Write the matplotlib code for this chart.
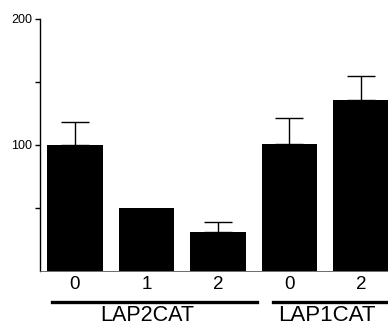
import numpy as np
import matplotlib
matplotlib.use('Agg')
import matplotlib.pyplot as plt
from matplotlib.transforms import blended_transform_factory

plt.rcParams['font.family'] = ['Liberation Sans', 'DejaVu Sans']

# bar values (percent activity)
labels = ['0', '1', '2', '0', '2']
values = [100, 50, 31, 101, 136]
err_up = [18, 0, 8, 20, 19]
groups = ['LAP2CAT', 'LAP1CAT']

fig = plt.figure(figsize=(3.88, 3.26), dpi=100)
ax = fig.add_axes([0.103, 0.169, 0.897, 0.773])

x = np.arange(len(values))
ax.bar(x, values, width=0.78, color='black', zorder=2)
errs = np.array([np.zeros(len(err_up)), err_up])
mask = np.array(err_up) > 0
ax.errorbar(x[mask], np.array(values)[mask], yerr=errs[:, mask], fmt='none',
            ecolor='black', elinewidth=1, capsize=10, capthick=1, zorder=1)

ax.set_xlim(-0.49, 4.38)
ax.set_ylim(0, 200)
ax.set_yticks([100, 200])
ax.set_yticklabels(['100', '200'], fontsize=9)
ax.set_yticks([50, 150], minor=True)
ax.tick_params(axis='y', which='both', direction='out', length=3.5, width=1, pad=2)
ax.set_xticks(x)
ax.set_xticklabels(labels, fontsize=13.5)
ax.tick_params(axis='x', length=0, pad=4)

for s in ['top', 'right']:
    ax.spines[s].set_visible(False)
ax.spines['left'].set_linewidth(1)
ax.spines['bottom'].set_linewidth(0.6)
ax.spines['bottom'].set_color('#555555')

tr = blended_transform_factory(ax.transData, fig.transFigure)
ax.plot([-0.32, 2.55], [0.073, 0.073], color='black', lw=2.4, transform=tr, clip_on=False)
ax.plot([2.77, 4.5], [0.073, 0.073], color='black', lw=2.4, transform=tr, clip_on=False)
ax.text(1.01, 0.016, groups[0], transform=tr, ha='center', va='baseline', fontsize=15.5)
ax.text(3.53, 0.016, groups[1], transform=tr, ha='center', va='baseline', fontsize=16)

fig.savefig('out.png', dpi=100)
